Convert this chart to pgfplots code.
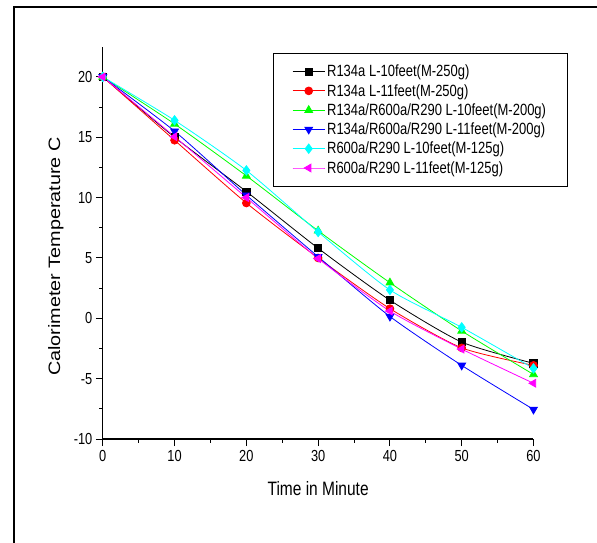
\documentclass[border=0pt]{standalone}
\usepackage{fontspec}
\setmainfont{Liberation Sans}
\usepackage{pgfplots}
\pgfplotsset{compat=1.18}
\definecolor{cBlack}{RGB}{0,0,0}
\definecolor{cRed}{RGB}{255,0,0}
\definecolor{cGreen}{RGB}{0,255,0}
\definecolor{cBlue}{RGB}{0,0,255}
\definecolor{cCyan}{RGB}{0,255,255}
\definecolor{cMagenta}{RGB}{255,0,255}
% the reference text is stretched vertically
\newcommand{\st}[1]{\scalebox{1}[1.25]{#1}}
\newcommand{\legtxt}[1]{\st{#1}\hspace{14pt}}
\begin{document}
\begin{tikzpicture}
% outer frame of the figure (right and bottom edges fall outside the picture)
\draw[line width=2.2pt, black] (13.7pt,-10pt) -- (13.7pt,535pt) -- (610pt,535pt);
\begin{axis}[
  at={(102.8pt,103pt)}, anchor=south west,
  scale only axis, width=430.7pt, height=392.3pt,
  xmin=0, xmax=60, ymin=-10, ymax=22.5,
  axis lines*=left,
  axis line style={line width=1.1pt},
  xtick={0,10,...,60}, ytick={-10,-5,...,20},
  minor x tick num=1, minor y tick num=1,
  tick align=outside,
  major tick length=7pt, minor tick length=3.5pt,
  tick style={black, line width=0.9pt},
  /pgf/number format/assume math mode=true,
  xticklabel={\st{\pgfmathprintnumber{\tick}}},
  yticklabel={\st{\pgfmathprintnumber{\tick}}},
  ticklabel style={font=\fontsize{12.8}{13}\selectfont},
  xticklabel style={yshift=-1pt},
  xlabel={\st{Time in Minute}},
  xlabel style={at={(axis description cs:0.5,-0.1275)}, anchor=center, font=\fontsize{15.5}{16}\selectfont},
  ylabel={\scalebox{1.2}[1]{Calorimeter Temperature C}},
  ylabel style={at={(axis description cs:-0.109,0.465)}, anchor=center, font=\fontsize{16.5}{17}\selectfont},
  legend style={at={(0.395,0.985)}, anchor=north west, draw=black, line width=0.8pt,
    font=\fontsize{13}{13}\selectfont, inner xsep=19pt, inner ysep=10pt, row sep=2pt,
    /tikz/every even column/.append style={column sep=3pt}},
  legend cell align=left,
  legend image code/.code={\draw[mark repeat=2,mark phase=2] plot coordinates {(0pt,0pt)(16pt,0pt)(32pt,0pt)};},
  every axis plot/.append style={line width=0.8pt, smooth, tension=0.4},
]
\addplot[cBlack, mark=square*, mark size=3.6pt, mark options={solid, fill=cBlack}]
  coordinates {(0,20)(10,15.0)(20,10.5)(30,5.8)(40,1.5)(50,-1.97)(60,-3.73)};
\addplot[cRed, mark=*, mark size=3.9pt, mark options={solid, fill=cRed}]
  coordinates {(0,20)(10,14.75)(20,9.55)(30,5.0)(40,0.8)(50,-2.45)(60,-3.9)};
\addplot[cGreen, mark=triangle*, mark size=4.5pt, mark options={solid, fill=cGreen}]
  coordinates {(0,20)(10,16.1)(20,11.8)(30,7.25)(40,2.95)(50,-1.05)(60,-4.65)};
\addplot[cBlue, mark=triangle*, mark size=4.5pt, mark options={solid, fill=cBlue, rotate=180}]
  coordinates {(0,20)(10,15.5)(20,10.2)(30,5.1)(40,0.15)(50,-3.9)(60,-7.55)};
\addplot[cCyan, mark=diamond*, mark size=4.7pt, mark options={solid, fill=cCyan}]
  coordinates {(0,20)(10,16.4)(20,12.25)(30,7.15)(40,2.35)(50,-0.75)(60,-4.15)};
\addplot[cMagenta, mark=triangle*, mark size=4.5pt, mark options={solid, fill=cMagenta, rotate=90}]
  coordinates {(0,20)(10,15.05)(20,10.0)(30,4.95)(40,0.6)(50,-2.55)(60,-5.38)};
\legend{\legtxt{R134a L-10feet(M-250g)}, \legtxt{R134a L-11feet(M-250g)},
  \legtxt{R134a/R600a/R290 L-10feet(M-200g)}, \legtxt{R134a/R600a/R290 L-11feet(M-200g)},
  \legtxt{R600a/R290 L-10feet(M-125g)}, \legtxt{R600a/R290 L-11feet(M-125g)}}
\end{axis}
\pgfresetboundingbox
\useasboundingbox (0pt,0pt) rectangle (597pt,542pt);
\end{tikzpicture}
\end{document}
